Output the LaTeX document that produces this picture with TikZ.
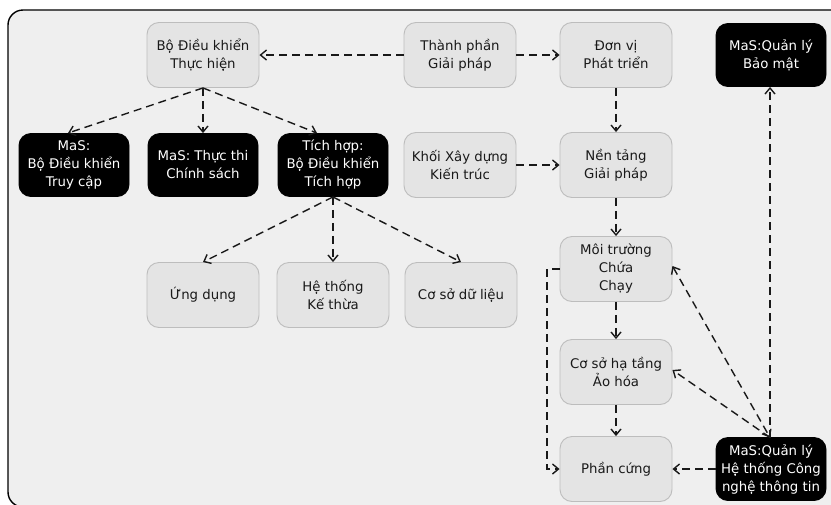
\documentclass[tikz,border=0pt]{standalone}
\usepackage{fontspec}
\setmainfont{DejaVu Sans}
\usetikzlibrary{arrows.meta}
\definecolor{panelbg}{HTML}{EFEFEF}
\definecolor{boxfill}{HTML}{E4E4E4}
\definecolor{boxline}{HTML}{BDBDBD}
\begin{document}
\begin{tikzpicture}[x=1pt,y=-1pt,
  box/.style={draw=boxline, fill=boxfill, line width=0.9pt, rounded corners=12pt,
    minimum width=112pt, minimum height=65pt, align=center, inner sep=2pt,
    font=\fontsize{13.3}{18}\selectfont, text=black!90},
  darkbox/.style={box, draw=black, fill=black, text=white,
    minimum width=110pt, minimum height=63pt},
  link/.style={draw=black!90, line width=1.4pt, dash pattern=on 8pt off 5pt,
    -{Straight Barb[length=6pt,width=10pt]}},
  twoway/.style={link, {Straight Barb[length=6pt,width=10pt]}-{Straight Barb[length=6pt,width=10pt]}}
]
\useasboundingbox (0,0) rectangle (831,504);
\fill[white] (0,0) rectangle (831,504);
% outer panel
\draw[fill=panelbg, line width=1.4pt, rounded corners=15pt] (8,10) rectangle (850,507);

% top row
\node[box] (bdk) at (203,55) {Bộ Điều khiển\\Thực hiện};
\node[box] (tp)  at (460,55) {Thành phần\\Giải pháp};
\node[box] (dv)  at (616,55) {Đơn vị\\Phát triển};
\node[darkbox] (bm) at (771,55) {MaS:Quản lý\\Bảo mật};

% second row
\node[darkbox] (acc) at (74,165)  {MaS:\\Bộ Điều khiển\\Truy cập};
\node[darkbox] (pol) at (203,165) {MaS: Thực thi\\Chính sách};
\node[darkbox] (th)  at (333,165) {Tích hợp:\\Bộ Điều khiển\\Tích hợp};
\node[box] (kx) at (460,165) {Khối Xây dựng\\Kiến trúc};
\node[box] (nt) at (616,165) {Nền tảng\\Giải pháp};

% third row
\node[box] (ud)   at (203,295) {Ứng dụng};
\node[box] (kt)   at (333,295) {Hệ thống\\Kế thừa};
\node[box] (csdl) at (461,295) {Cơ sở dữ liệu};

% right column
\node[box] (mt)  at (616,269) {Môi trường\\Chứa\\Chạy};
\node[box] (csh) at (616,372) {Cơ sở hạ tầng\\Ảo hóa};
\node[box] (pc)  at (616,469) {Phần cứng};
\node[darkbox] (it) at (771,469) {MaS:Quản lý\\Hệ thống Công\\nghệ thông tin};

% connectors
\draw[link] (tp.west) -- (bdk.east);
\draw[link] (tp.east) -- (dv.west);
\draw[link] (dv.south) -- (nt.north);
\draw[link] (kx.east) -- (nt.west);
\draw[link] (nt.south) -- (mt.north);
\draw[link] (mt.south) -- (csh.north);
\draw[link] (csh.south) -- (pc.north);
\draw[link] (it.west) -- (pc.east);

\draw[link] (bdk.south) -- ([xshift=-6pt]acc.north);
\draw[link] (bdk.south) -- (pol.north);
\draw[link] (bdk.south) -- ([xshift=-16pt]th.north);

\draw[link] (th.south) -- (ud.north);
\draw[link] (th.south) -- (kt.north);
\draw[link] (th.south) -- (csdl.north);

\coordinate (loop) at (547,269);
\draw[link] (mt.west) -- (loop) |- (pc.west);

\coordinate (ittop) at (770,437.5);
\draw[link] (ittop) -- (ittop |- bm.south);
\draw[twoway] ([yshift=3pt]mt.east) -- (ittop);
\draw[link] (ittop) -- ([yshift=2pt]csh.east);
\end{tikzpicture}
\end{document}
